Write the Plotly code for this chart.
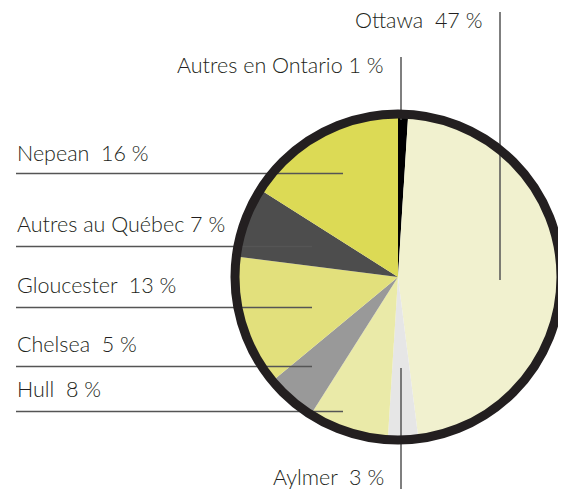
import plotly.graph_objects as go

# The page body has an 8px margin, so the figure is drawn at (8, 8)
OFF = 8
W, H = 566 - OFF, 489 - OFF

# Data (clockwise from 12 o'clock)
labels = ["Autres en Ontario", "Ottawa", "Aylmer", "Hull", "Chelsea",
          "Gloucester", "Autres au Québec", "Nepean"]
values = [1, 47, 3, 8, 5, 13, 7, 16]
label_texts = ["Autres en Ontario 1 %", "Ottawa  47 %", "Aylmer  3 %", "Hull  8 %",
               "Chelsea  5 %", "Gloucester  13 %", "Autres au Québec 7 %", "Nepean  16 %"]
colors = ["#000000", "#f1f1cf", "#e6e6e6", "#eaeaa8", "#999999",
          "#e2e07c", "#4d4d4d", "#dcda55"]


def px(x):
    return (x - OFF) / W


def py(y):
    return (H - (y - OFF)) / H


cx, cy, r = 398, 277, 163
dom_x = [px(cx - r), px(cx + r)]
dom_y = [py(cy + r), py(cy - r)]

fig = go.Figure()
fig.add_trace(go.Pie(
    labels=labels, values=values, sort=False, direction="clockwise", rotation=0,
    marker=dict(colors=colors, line=dict(width=0)),
    textinfo="none", hoverinfo="label+percent", showlegend=False,
    domain=dict(x=dom_x, y=dom_y),
))

line_style = dict(color="#555555", width=1.5)
# leader lines
segments = [
    (500, 12, 500, 280),      # Ottawa
    (401, 57, 401, 120),      # Autres en Ontario
    (401, 368, 401, 489),     # Aylmer
    (16, 173.5, 343, 173.5),  # Nepean
    (16, 246.5, 312, 246.5),  # Autres au Québec
    (16, 307.5, 312, 307.5),  # Gloucester
    (16, 366.5, 312, 366.5),  # Chelsea
    (16, 411.5, 343, 411.5),  # Hull
]
for x0, y0, x1, y1 in segments:
    fig.add_shape(type="line", xref="paper", yref="paper",
                  x0=px(x0), y0=py(y0), x1=px(x1), y1=py(y1), line=line_style)

# outer ring
fig.add_shape(type="circle", xref="paper", yref="paper",
              x0=px(cx - r), x1=px(cx + r), y0=py(cy + r), y1=py(cy - r),
              line=dict(color="#231f20", width=9), layer="above")

# label placement: (x, baseline y, anchor)
placements = {
    "Ottawa": (483, 28, "right"),
    "Autres en Ontario": (385, 73, "right"),
    "Nepean": (16, 161, "left"),
    "Autres au Québec": (16, 232, "left"),
    "Gloucester": (16, 293, "left"),
    "Chelsea": (16, 352, "left"),
    "Hull": (16, 397, "left"),
    "Aylmer": (385, 485, "right"),
}
FS = 21.5
for lab, txt in zip(labels, label_texts):
    x, yb, anc = placements[lab]
    fig.add_annotation(x=px(x), y=py(yb - 0.36 * FS), xref="paper", yref="paper",
                       text=txt, showarrow=False, xanchor=anc, yanchor="middle",
                       borderpad=0,
                       font=dict(family="Lato", size=FS, color="#231f20", weight=300))

fig.update_layout(width=W, height=H, margin=dict(l=0, r=0, t=0, b=0),
                  paper_bgcolor="white", plot_bgcolor="white")
fig.write_html("out.html")
